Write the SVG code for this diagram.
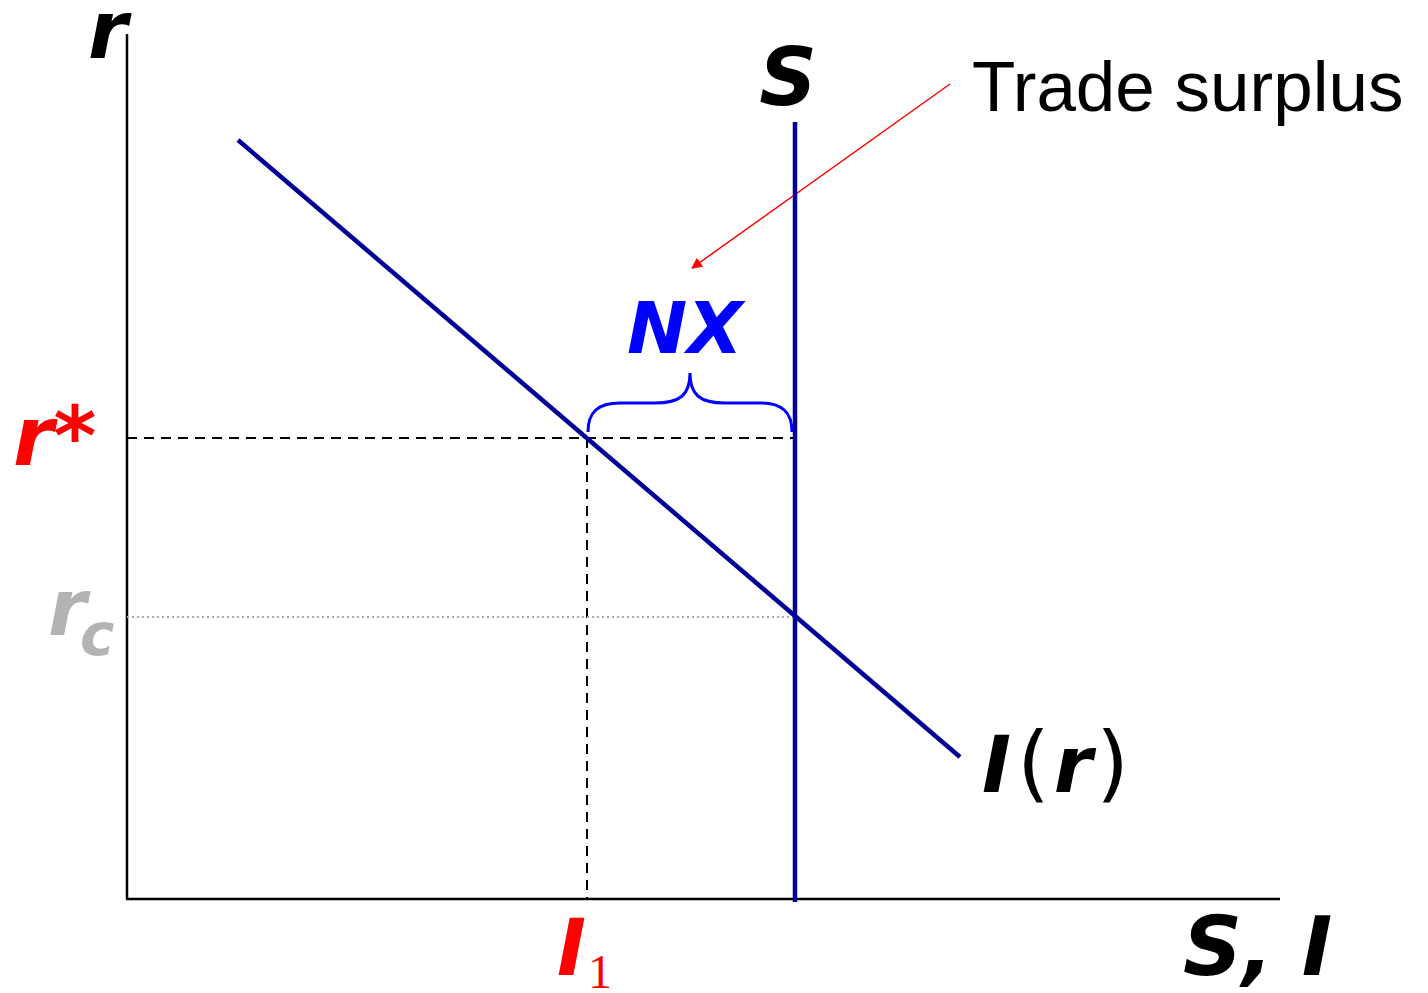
<svg xmlns="http://www.w3.org/2000/svg" width="1428" height="993" viewBox="0 0 1428 993">
<style>
.bi{font-family:Verdana,"DejaVu Sans",sans-serif;font-weight:bold;font-style:italic}
.curve{stroke:#000099;stroke-width:4.5;fill:none}
.axis{stroke:#000;stroke-width:2.5;fill:none}
.dash{stroke:#000;stroke-width:2;stroke-dasharray:10,7;fill:none}
.pl{font-weight:normal;font-style:normal}
</style>
<defs>
<marker id="ah" viewBox="0 0 10 10" refX="9" refY="5" markerWidth="11" markerHeight="11" markerUnits="userSpaceOnUse" orient="auto">
<path d="M0,0 L10,5 L0,10 z" fill="#ff0000"/>
</marker>
</defs>
<rect width="1428" height="993" fill="#fff"/>
<g id="axes">
<line class="axis" x1="127" y1="34" x2="127" y2="899"/>
<line class="axis" x1="126" y1="899" x2="1280" y2="899"/>
</g>
<g id="connectors">
<line class="dash" x1="127" y1="438" x2="795" y2="438"/>
<line class="dash" x1="587" y1="438" x2="587" y2="899"/>
<line x1="127" y1="617" x2="795" y2="617" stroke="#aaaaaa" stroke-width="2" stroke-dasharray="2,3"/>
<line x1="950" y1="84" x2="692" y2="268" stroke="#ff0000" stroke-width="1.5" marker-end="url(#ah)"/>
</g>
<g id="curve-S"><line class="curve" x1="795" y1="122" x2="795" y2="902"/></g>
<g id="curve-I"><line class="curve" x1="238" y1="140" x2="960" y2="757"/></g>
<g id="brace"><path d="M588,432 C588,412 598,403 620,403 L655,403 C680,403 690,395 690,373 C690,395 700,403 725,403 L760,403 C782,403 792,412 792,432" stroke="#0000ff" stroke-width="3" fill="none"/></g>
<g id="labels">
<text class="bi" x="88" y="58" font-size="80">r</text>
<text class="bi" x="788" y="105" font-size="80" text-anchor="middle">S</text>
<text x="972" y="111" font-size="71" font-family="Liberation Sans, Arial, sans-serif">Trade surplus</text>
<text class="bi" x="627" y="353" font-size="72" fill="#0000ff">NX</text>
<text class="bi" x="13" y="465" font-size="82" fill="#ff0000">r*</text>
<text class="bi" x="48" y="635" font-size="78" fill="#b3b3b3">r<tspan font-size="58" dy="20" x="80">c</tspan></text>
<text class="bi" x="982" y="792" font-size="78">I<tspan class="pl" dx="6" font-size="84">(</tspan><tspan dx="4">r</tspan><tspan class="pl" dx="4" font-size="84">)</tspan></text>
<text class="bi" x="557" y="975" font-size="78" fill="#ff0000">I<tspan font-family="Liberation Serif, serif" class="pl" font-size="48" dx="2" dy="13">1</tspan></text>
<text class="bi" x="1183" y="975" font-size="82">S, I</text>
</g>
</svg>
